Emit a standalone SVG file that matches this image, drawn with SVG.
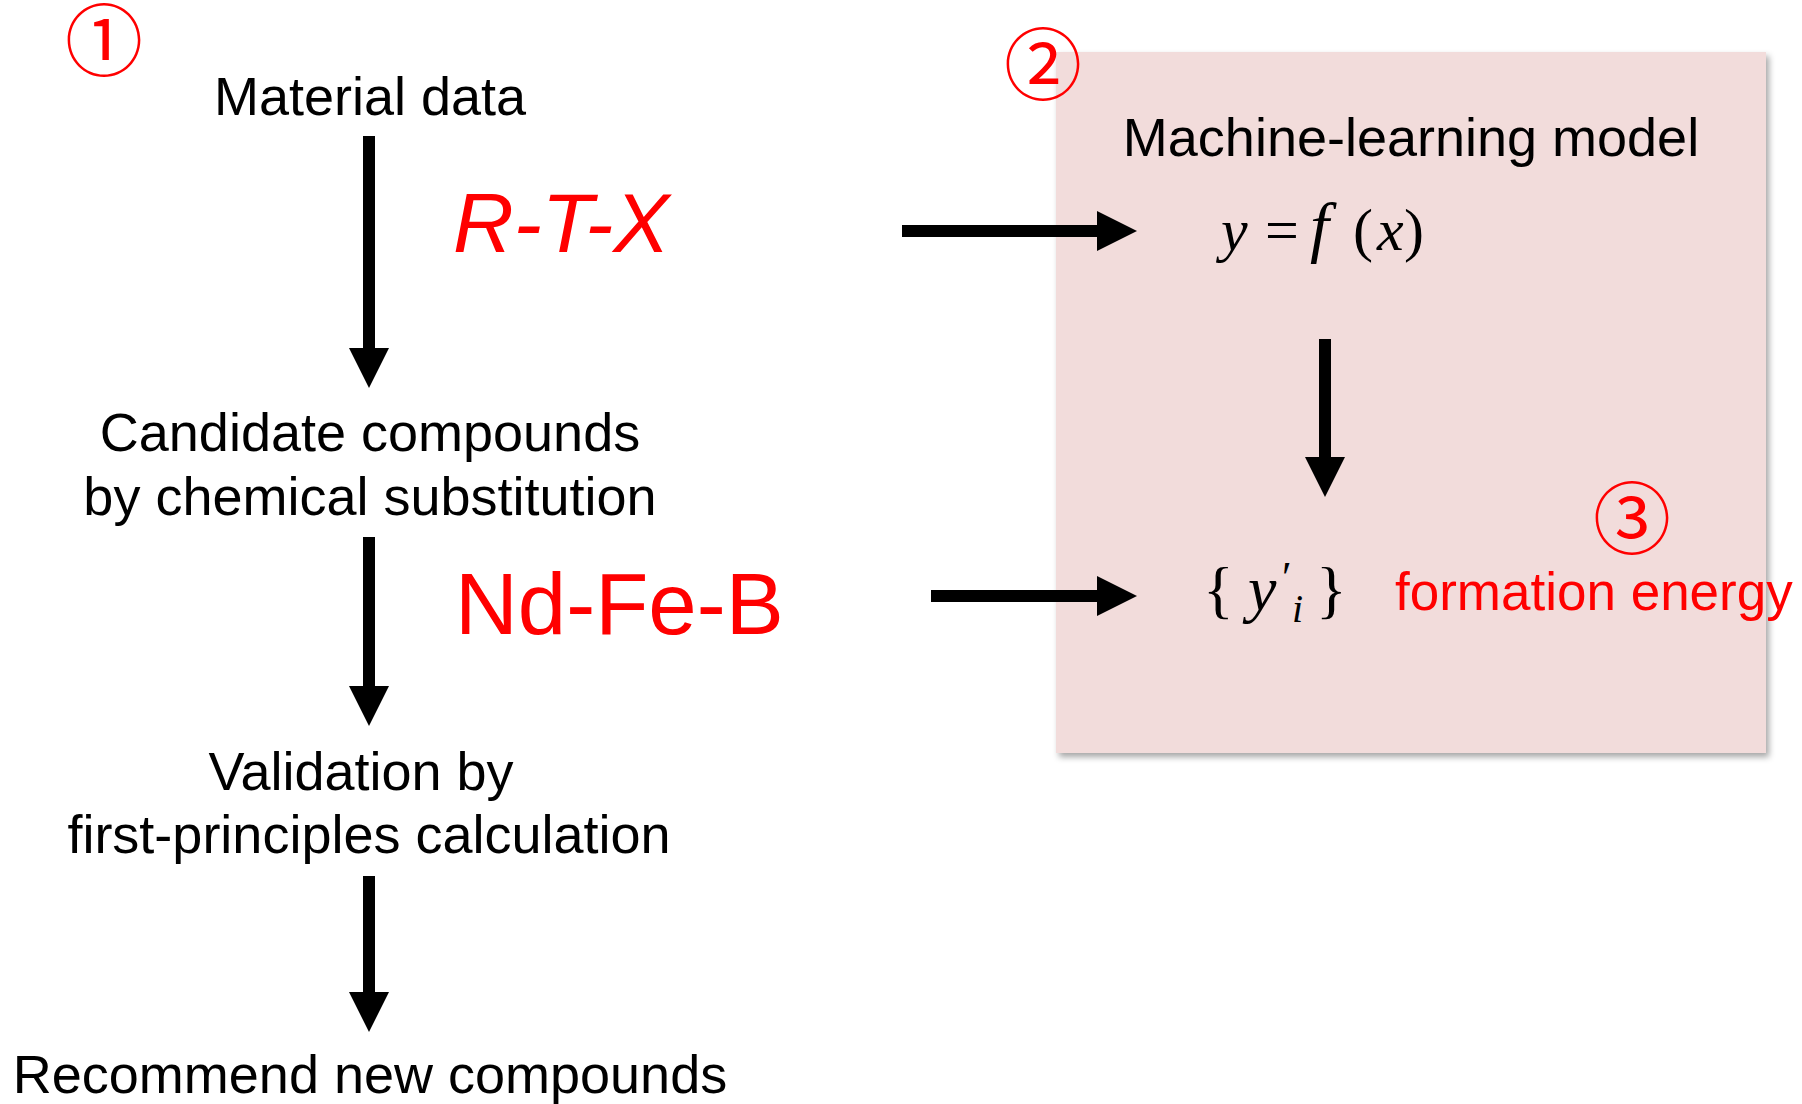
<svg xmlns="http://www.w3.org/2000/svg" width="1802" height="1104" viewBox="0 0 1802 1104">
<style>
.lbl{font-family:"Liberation Sans",Arial,sans-serif;font-size:54px;fill:#000;text-anchor:middle}
.red{font-family:"Liberation Sans",Arial,sans-serif;fill:#FF0000}
.circ{font-family:"Noto Sans CJK JP","DejaVu Sans",sans-serif;font-size:78px;fill:#FF0000;text-anchor:middle}
.math{font-family:"Liberation Serif","Times New Roman",serif;fill:#000}
.arr{stroke:#000;stroke-width:12;fill:none;marker-end:url(#head)}
</style>
<defs>
<marker id="head" markerUnits="userSpaceOnUse" markerWidth="40" markerHeight="40" refX="0" refY="20" orient="auto" viewBox="0 0 40 40">
<path d="M0,0 L40,20 L0,40 Z" fill="#000"/>
</marker>
<filter id="shadow" x="-5%" y="-5%" width="112%" height="112%">
<feDropShadow dx="3" dy="4" stdDeviation="3" flood-color="#000" flood-opacity="0.35"/>
</filter>
</defs>
<rect width="1802" height="1104" fill="#fff"/>
<g id="ml-box">
<rect x="1056" y="52" width="710" height="701" fill="#F2DCDB" filter="url(#shadow)"/>
</g>
<g id="marker1"><text class="circ" x="104" y="70">①</text></g>
<g id="marker2"><text class="circ" x="1043" y="94">②</text></g>
<g id="marker3"><text class="circ" x="1632" y="548">③</text></g>
<g id="material-data"><text class="lbl" x="370" y="115">Material data</text></g>
<g id="rtx"><text class="red" x="453" y="252" font-size="84" font-style="italic">R-T-X</text></g>
<g id="candidates"><text class="lbl" x="370" y="451">Candidate compounds</text><text class="lbl" x="370" y="515">by chemical substitution</text></g>
<g id="ndfeb"><text class="red" x="455" y="634" font-size="87">Nd-Fe-B</text></g>
<g id="validation"><text class="lbl" x="361" y="790">Validation by</text><text class="lbl" x="369" y="853">first-principles calculation</text></g>
<g id="recommend"><text class="lbl" x="370" y="1093">Recommend new compounds</text></g>
<g id="ml-model"><text class="lbl" x="1411" y="156">Machine-learning model</text></g>
<g id="function">
<text class="math" x="1221" y="250" font-size="60"><tspan font-style="italic">y</tspan><tspan x="1265">=</tspan><tspan x="1310" font-style="italic" font-size="68">f</tspan><tspan x="1353">(</tspan><tspan x="1377" font-style="italic">x</tspan><tspan x="1404">)</tspan></text>
</g>
<g id="predictions">
<text class="math" font-size="64"><tspan x="1203" y="611">{</tspan><tspan x="1248" y="610" font-style="italic">y</tspan><tspan x="1282" y="592" font-size="44">′</tspan><tspan x="1292" y="622" font-size="40" font-style="italic">i</tspan><tspan x="1316" y="611">}</tspan></text>
</g>
<g id="formation-energy"><text class="red" x="1395" y="610" font-size="53">formation energy</text></g>
<g id="connectors">
<line class="arr" x1="369" y1="136" x2="369" y2="348"/>
<line class="arr" x1="369" y1="537" x2="369" y2="686"/>
<line class="arr" x1="369" y1="876" x2="369" y2="992"/>
<line class="arr" x1="902" y1="231" x2="1097" y2="231"/>
<line class="arr" x1="931" y1="596" x2="1097" y2="596"/>
<line class="arr" x1="1325" y1="339" x2="1325" y2="457"/>
</g>
</svg>
